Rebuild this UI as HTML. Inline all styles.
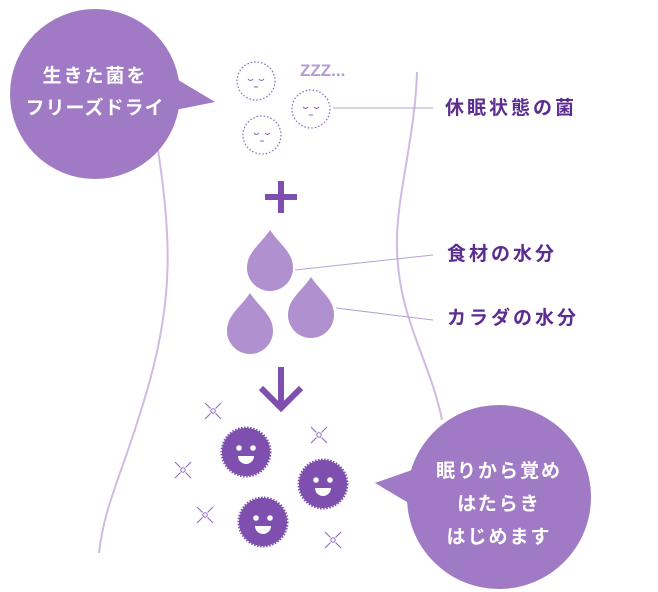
<!DOCTYPE html>
<html><head><meta charset="utf-8"><style>
html,body{margin:0;padding:0;background:#fff;}
svg{display:block;}
text{font-family:"Liberation Sans","Noto Sans CJK JP",sans-serif;font-weight:bold;}
</style></head><body>
<svg width="658" height="592" viewBox="0 0 658 592" xmlns="http://www.w3.org/2000/svg">
<defs>
<g id="happy">
<circle r="24" fill="#7e4fae" stroke="#7e4fae" stroke-width="3" stroke-dasharray="1.5 1.5"/>
<circle cx="-7" cy="-4" r="2.8" fill="#fff"/>
<circle cx="7" cy="-4" r="2.8" fill="#fff"/>
<path d="M-8 4 H8 A8 8 0 0 1 -8 4 Z" fill="#fff"/>
</g>
<g id="sleep">
<circle r="19" fill="none" stroke="#8d66bb" stroke-width="1.2" stroke-dasharray="1.5 2"/>
<path d="M-8 -2 q2.5 3 5 0 M3 -2 q2.5 3 5 0" fill="none" stroke="#8d66bb" stroke-width="1"/>
<path d="M-2 6 h4" stroke="#8d66bb" stroke-width="1"/>
</g>
<g id="spark" stroke="#8d66bb" stroke-width="1" fill="none">
<path d="M-8 -8 L-2.5 -2.5 M2.5 2.5 L8 8 M8 -8 L2.5 -2.5 M-2.5 2.5 L-8 8"/>
<circle r="2.2"/>
</g>
</defs>
<!-- body outline -->
<path d="M158 150 C172 240 172 300 150 380 C125 470 105 500 99 553" fill="none" stroke="#cdbbe2" stroke-width="2"/>
<path d="M417 72 C415 140 395 200 397 250 C399 320 430 360 442 420" fill="none" stroke="#cdbbe2" stroke-width="2"/>
<!-- left bubble -->
<circle cx="95" cy="94" r="85" fill="#a07ac4"/>
<path d="M175 78 L215 102 L175 110 Z" fill="#a07ac4"/>
<text x="95" y="82" fill="#fff" font-size="19" text-anchor="middle" letter-spacing="2">生きた菌を</text>
<text x="95" y="114" fill="#fff" font-size="19" text-anchor="middle" letter-spacing="1">フリーズドライ</text>
<!-- right bubble -->
<circle cx="499" cy="497" r="92" fill="#a07ac4"/>
<path d="M412 470 L375 483 L412 505 Z" fill="#a07ac4"/>
<text x="499" y="477" fill="#fff" font-size="19" text-anchor="middle" letter-spacing="2">眠りから覚め</text>
<text x="499" y="510" fill="#fff" font-size="19" text-anchor="middle" letter-spacing="2">はたらき</text>
<text x="499" y="543" fill="#fff" font-size="19" text-anchor="middle" letter-spacing="2">はじめます</text>
<!-- sleepy -->
<use href="#sleep" x="256" y="81"/>
<use href="#sleep" x="311" y="109"/>
<use href="#sleep" x="262" y="135"/>
<text x="300" y="76" fill="#b49ad6" font-size="17" letter-spacing="0">ZZZ...</text>
<!-- connectors -->
<path d="M333 108 H433" stroke="#b7a0d6" stroke-width="1"/>
<path d="M295 270 L433 255" stroke="#b7a0d6" stroke-width="1"/>
<path d="M336 308 L433 320" stroke="#b7a0d6" stroke-width="1"/>
<text x="445" y="114" fill="#5b2d91" font-size="19" letter-spacing="3">休眠状態の菌</text>
<text x="447" y="260" fill="#5b2d91" font-size="19" letter-spacing="3">食材の水分</text>
<text x="447" y="324" fill="#5b2d91" font-size="19" letter-spacing="3">カラダの水分</text>
<!-- plus -->
<path d="M265 197 H297 M281 181 V213" stroke="#7e4fae" stroke-width="6"/>
<!-- drops -->
<path d="M270 230 C260 245 247 252 247 268 A23 23 0 0 0 293 268 C293 252 280 245 270 230 Z" fill="#b090cf"/>
<path d="M250 293 C240 308 227 315 227 331 A23 23 0 0 0 273 331 C273 315 260 308 250 293 Z" fill="#b090cf"/>
<path d="M311 277 C301 292 288 299 288 315 A23 23 0 0 0 334 315 C334 299 321 292 311 277 Z" fill="#b090cf"/>
<!-- arrow -->
<path d="M281 367 V408 M261 388 L281 408 L301 388" fill="none" stroke="#7e4fae" stroke-width="6"/>
<!-- happy -->
<use href="#happy" x="246" y="452"/>
<use href="#happy" x="323" y="484"/>
<use href="#happy" x="263" y="522"/>
<use href="#spark" x="213" y="411"/>
<use href="#spark" x="319" y="435"/>
<use href="#spark" x="183" y="470"/>
<use href="#spark" x="205" y="515"/>
<use href="#spark" x="333" y="540"/>
</svg>
</body></html>
